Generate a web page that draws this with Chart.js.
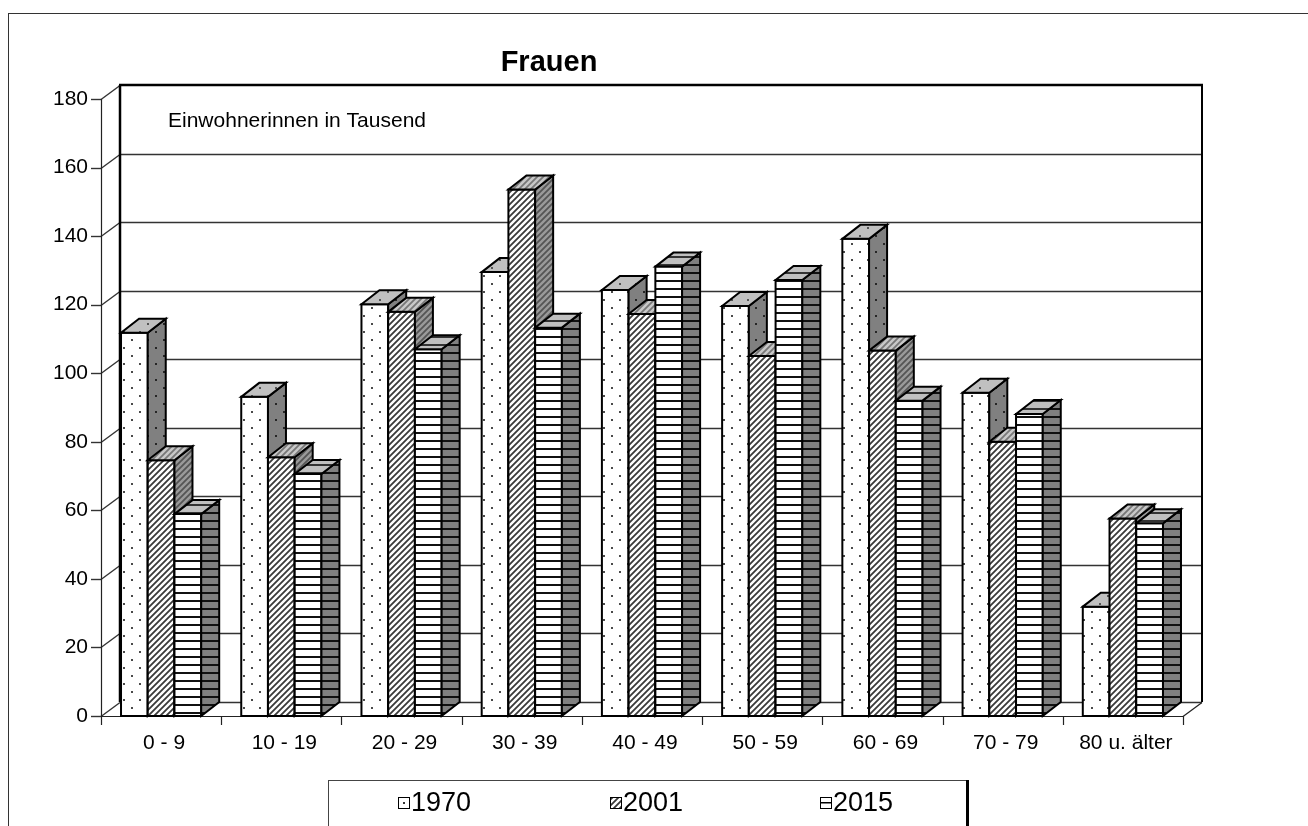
<!DOCTYPE html>
<html>
<head>
<meta charset="utf-8">
<title>Frauen</title>
<script src="https://cdn.jsdelivr.net/npm/chart.js@4.4.0/dist/chart.umd.min.js"></script>
<style>
  html, body { margin: 0; padding: 0; background: #fff; overflow: hidden; }
  canvas { display: block; }
</style>
</head>
<body>
<canvas id="chart" width="1308" height="826"></canvas>
<script>
// Age groups and female population (thousands) per census year
const categories = ['0 - 9', '10 - 19', '20 - 29', '30 - 39', '40 - 49', '50 - 59', '60 - 69', '70 - 79', '80 u. älter'];
const seriesLabels = ['1970', '2001', '2015'];
const women1970 = [111.8, 93.1, 120.1, 129.5, 124.3, 119.6, 139.2, 94.3, 31.9];
const women2001 = [74.6, 75.5, 117.9, 153.6, 117.3, 105.0, 106.6, 80.0, 57.6];
const women2015 = [58.9, 70.6, 107.0, 113.3, 131.1, 127.2, 92.0, 88.1, 56.2];
const yTickValues = [0, 20, 40, 60, 80, 100, 120, 140, 160, 180];

const FONT = '"Liberation Sans", Arial, Helvetica, sans-serif';
const WALL_DX = 19, WALL_DY = -14;   // depth of the 3D walls
const BAR_DX = 18, BAR_DY = -14;     // depth of the 3D columns

const canvas = document.getElementById('chart');
const mainCtx = canvas.getContext('2d');

// Hatch-style fills built from small tiles
function makePattern(kind, bg, fg) {
  const t = document.createElement('canvas');
  const c = t.getContext('2d');
  if (kind === 'dots') {
    t.width = 16; t.height = 16;
    c.fillStyle = bg; c.fillRect(0, 0, 16, 16);
    c.fillStyle = fg;
    c.fillRect(3, 3, 2, 2);
    c.fillRect(11, 11, 2, 2);
  } else if (kind === 'hatch') {
    t.width = 6; t.height = 6;
    c.fillStyle = bg; c.fillRect(0, 0, 6, 6);
    c.strokeStyle = fg; c.lineWidth = 1.8;
    c.beginPath();
    c.moveTo(-1, 7); c.lineTo(7, -1);
    c.moveTo(-1, 1); c.lineTo(1, -1);
    c.moveTo(5, 7); c.lineTo(7, 5);
    c.stroke();
  } else {
    t.width = 8; t.height = 8;
    c.fillStyle = bg; c.fillRect(0, 0, 8, 8);
    c.fillStyle = fg; c.fillRect(0, 0, 8, 2);
  }
  return mainCtx.createPattern(t, 'repeat');
}

const faces = [
  { front: makePattern('dots', '#ffffff', '#4a4a4a'), side: makePattern('dots', '#808080', '#262626'), top: makePattern('dots', '#c0c0c0', '#555555') },
  { front: makePattern('hatch', '#ffffff', '#3a3a3a'), side: makePattern('hatch', '#9a9a9a', '#555555'), top: makePattern('hatch', '#c8c8c8', '#777777') },
  { front: makePattern('stripes', '#ffffff', '#111111'), side: makePattern('stripes', '#808080', '#111111'), top: makePattern('stripes', '#c0c0c0', '#333333') }
];

function line(ctx, x1, y1, x2, y2) {
  ctx.beginPath(); ctx.moveTo(x1, y1); ctx.lineTo(x2, y2); ctx.stroke();
}

function drawColumn(ctx, x0, x1, yTop, yBase, f) {
  ctx.lineWidth = 2;
  ctx.strokeStyle = '#000';
  ctx.lineJoin = 'miter';
  // front face
  ctx.fillStyle = f.front;
  ctx.beginPath(); ctx.rect(x0, yTop, x1 - x0, yBase - yTop); ctx.fill(); ctx.stroke();
  // right side face
  ctx.fillStyle = f.side;
  ctx.beginPath();
  ctx.moveTo(x1, yBase); ctx.lineTo(x1 + BAR_DX, yBase + BAR_DY);
  ctx.lineTo(x1 + BAR_DX, yTop + BAR_DY); ctx.lineTo(x1, yTop); ctx.closePath();
  ctx.fill(); ctx.stroke();
  // top face
  ctx.fillStyle = f.top;
  ctx.beginPath();
  ctx.moveTo(x0, yTop); ctx.lineTo(x0 + BAR_DX, yTop + BAR_DY);
  ctx.lineTo(x1 + BAR_DX, yTop + BAR_DY); ctx.lineTo(x1, yTop); ctx.closePath();
  ctx.fill(); ctx.stroke();
}

const chart3d = {
  id: 'chart3d',
  beforeDraw(chart) {
    const ctx = chart.ctx;
    ctx.save();
    ctx.fillStyle = '#fff';
    ctx.fillRect(0, 0, chart.width, chart.height);
    ctx.restore();
  },
  beforeDatasetsDraw(chart) {
    const ctx = chart.ctx;
    const yS = chart.scales.y;
    const area = chart.chartArea;
    const L = area.left, R = area.right;
    const T = yS.getPixelForValue(180), B = yS.getPixelForValue(0);
    ctx.save();
    ctx.lineCap = 'butt';

    // gridlines on back wall, diagonals on side wall, ticks on front axis
    ctx.strokeStyle = '#333';
    ctx.lineWidth = 1.4;
    yTickValues.forEach(v => {
      const yf = Math.round(yS.getPixelForValue(v)) + 0.5;
      line(ctx, L - 10, yf, L, yf);
      line(ctx, L, yf, L + WALL_DX, yf + WALL_DY);
      if (v !== 180) line(ctx, L + WALL_DX, yf + WALL_DY, R + WALL_DX, yf + WALL_DY);
    });
    // front value axis
    ctx.lineWidth = 1.2;
    ctx.strokeStyle = '#222';
    line(ctx, L + 0.5, T, L + 0.5, B);
    // floor front edge and right edge
    line(ctx, L, B + 0.5, R, B + 0.5);
    line(ctx, R, B + 0.5, R + WALL_DX, B + WALL_DY + 0.5);
    // category separators below the floor
    const n = categories.length;
    for (let k = 0; k <= n; k++) {
      const x = Math.round(L + k * (R - L) / n) + 0.5;
      line(ctx, x, B, x, B + 9);
    }
    // back wall frame
    ctx.strokeStyle = '#000';
    ctx.lineWidth = 2.5;
    line(ctx, L + WALL_DX, T + WALL_DY, L + WALL_DX, B + WALL_DY);
    line(ctx, L + WALL_DX - 1, T + WALL_DY, R + WALL_DX + 1, T + WALL_DY);
    ctx.lineWidth = 2;
    line(ctx, R + WALL_DX, T + WALL_DY, R + WALL_DX, B + WALL_DY);

    // columns, painted left to right so each one hides the side of its neighbour
    const metas = chart.data.datasets.map((d, i) => chart.getDatasetMeta(i));
    for (let j = 0; j < n; j++) {
      metas.forEach((meta, i) => {
        const el = meta.data[j];
        const p = el.getProps(['x', 'y', 'base', 'width'], true);
        drawColumn(ctx, p.x - p.width / 2, p.x + p.width / 2, p.y, p.base, faces[i]);
      });
    }
    ctx.restore();
    return false;
  },
  afterDraw(chart) {
    const ctx = chart.ctx;
    ctx.save();
    // outer frame
    ctx.strokeStyle = '#333';
    ctx.lineWidth = 1;
    ctx.strokeRect(8.5, 13.5, 1400, 900);

    // title and unit note
    ctx.fillStyle = '#000';
    ctx.textBaseline = 'alphabetic';
    ctx.textAlign = 'center';
    ctx.font = 'bold 29px ' + FONT;
    ctx.fillText('Frauen', 549, 71);
    ctx.textAlign = 'left';
    ctx.font = '21px ' + FONT;
    ctx.fillText('Einwohnerinnen in Tausend', 168, 127);

    // legend box
    ctx.strokeStyle = '#444';
    ctx.lineWidth = 1;
    ctx.strokeRect(328.5, 780.5, 638, 80);
    ctx.strokeStyle = '#000';
    ctx.lineWidth = 3;
    line(ctx, 967.5, 780, 967.5, 826);

    const items = [
      { icon: 398, text: 411 },
      { icon: 610, text: 623 },
      { icon: 820, text: 833 }
    ];
    const yMid = 803;
    ctx.font = '27px ' + FONT;
    ctx.textBaseline = 'middle';
    chart.data.datasets.forEach((ds, i) => {
      const it = items[i];
      const s = 11;
      const x0 = it.icon, y0 = yMid - 6;
      ctx.fillStyle = '#fff';
      ctx.fillRect(x0, y0, s, s);
      if (i === 0) {
        ctx.fillStyle = '#333';
        ctx.fillRect(x0 + 5, y0 + 5, 2, 2);
      } else if (i === 1) {
        ctx.fillStyle = faces[1].front;
        ctx.fillRect(x0, y0, s, s);
      } else {
        ctx.fillStyle = '#000';
        ctx.fillRect(x0, y0 + 5, s, 1.5);
      }
      ctx.strokeStyle = '#000';
      ctx.lineWidth = 1;
      ctx.strokeRect(x0 + 0.5, y0 + 0.5, s, s);
      ctx.fillStyle = '#000';
      ctx.textAlign = 'left';
      ctx.fillText(ds.label, it.text, yMid + 1);
    });
    ctx.restore();
  }
};

new Chart(canvas, {
  type: 'bar',
  data: {
    labels: categories,
    datasets: [
      { label: seriesLabels[0], data: women1970 },
      { label: seriesLabels[1], data: women2001 },
      { label: seriesLabels[2], data: women2015 }
    ]
  },
  options: {
    responsive: false,
    animation: false,
    devicePixelRatio: 1,
    events: [],
    layout: { padding: { top: 99, right: 125, left: 0, bottom: 0 } },
    datasets: { bar: { categoryPercentage: 0.667, barPercentage: 1 } },
    plugins: {
      legend: { display: false },
      title: { display: false },
      tooltip: { enabled: false }
    },
    scales: {
      x: {
        grid: { display: false, drawTicks: false },
        border: { display: false },
        ticks: { color: '#000', font: { family: FONT, size: 21 }, padding: 15, labelOffset: 3, maxRotation: 0, autoSkip: false },
        afterFit(scale) { scale.height = 110; }
      },
      y: {
        min: 0,
        max: 180,
        grid: { display: false, drawTicks: false },
        border: { display: false },
        ticks: { color: '#000', font: { family: FONT, size: 21 }, padding: 13, stepSize: 20 },
        afterFit(scale) { scale.width = 101; }
      }
    }
  },
  plugins: [chart3d]
});
</script>
</body>
</html>
